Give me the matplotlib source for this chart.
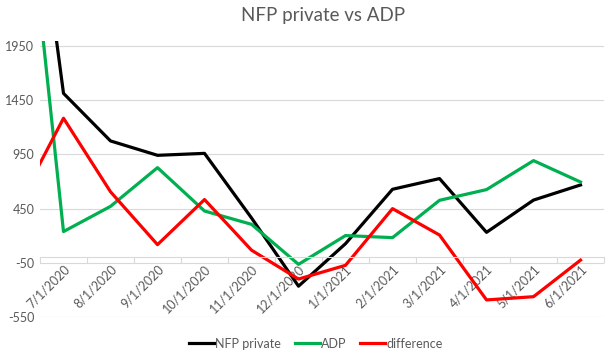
import numpy as np
import matplotlib.pyplot as plt

# monthly changes (thousands); first month sits left of the visible axis range
months = ["6/1/2020", "7/1/2020", "8/1/2020", "9/1/2020", "10/1/2020", "11/1/2020",
          "12/1/2020", "1/1/2021", "2/1/2021", "3/1/2021", "4/1/2021", "5/1/2021", "6/1/2021"]
nfp_private = [4790, 1515, 1075, 942, 960, 363, -268, 125, 628, 727, 230, 528, 668]
adp         = [4340, 237, 470, 828, 427, 304, -66, 200, 181, 526, 625, 893, 695]
difference  = [450, 1285, 605, 116, 533, 65, -202, -75, 449, 205, -395, -365, -27]

yticks = [-550, -50, 450, 950, 1450, 1950]

grey = "#595959"
grid = "#d9d9d9"
font = ["Lato", "DejaVu Sans"]

fig = plt.figure(figsize=(6.07, 3.54), dpi=100)
ax = fig.add_axes([0.0659, 0.1054, 0.9292, 0.7791])

x = np.arange(len(months)) - 1   # 6/1/2020 -> -1 (clipped)

ax.plot(x, nfp_private, color="#000000", lw=2.3, label="NFP private")
ax.plot(x, adp,         color="#00b050", lw=2.3, label="ADP")
ax.plot(x, difference,  color="#ff0000", lw=2.3, label="difference")

ax.set_xlim(-0.5, len(months) - 1.5)
ax.set_ylim(-550, 2000)

# spines first: set_position resets the ticks
for s in ["top", "right", "left"]:
    ax.spines[s].set_visible(False)
ax.spines["bottom"].set_position(("data", 0))
ax.spines["bottom"].set_color(grid)
ax.spines["bottom"].set_linewidth(0.8)

# y axis: gridlines only
ax.set_yticks(yticks)
ax.tick_params(axis="y", length=0, pad=4)
ax.grid(axis="y", color=grid, lw=0.8)
ax.set_axisbelow(True)

# x axis crosses at 0, labels next to it
vis = list(range(len(months) - 1))
ax.set_xticks(vis)
ax.set_xticks(np.arange(len(vis) + 1) - 0.5, minor=True)
ax.tick_params(axis="x", which="major", length=0, pad=4)
ax.tick_params(axis="x", which="minor", length=4, color=grid, width=0.8)
ax.set_xticklabels(months[1:])
ax.set_yticklabels([str(v) for v in yticks])

plt.setp(ax.get_xticklabels(), rotation=45, ha="right", va="top",
         rotation_mode="anchor", color=grey, fontsize=9, family=font)
plt.setp(ax.get_yticklabels(), color=grey, fontsize=9, family=font)

fig.suptitle("NFP private vs ADP", x=0.532, y=0.98, fontsize=13.5,
             color=grey, family=font)

fig.legend(loc="lower center", bbox_to_anchor=(0.52, -0.02), ncol=3, frameon=False,
           prop={"family": font, "size": 9}, labelcolor=grey,
           handlelength=2.0, handletextpad=0.1, columnspacing=1.1)

plt.savefig("out.png", dpi=100)
